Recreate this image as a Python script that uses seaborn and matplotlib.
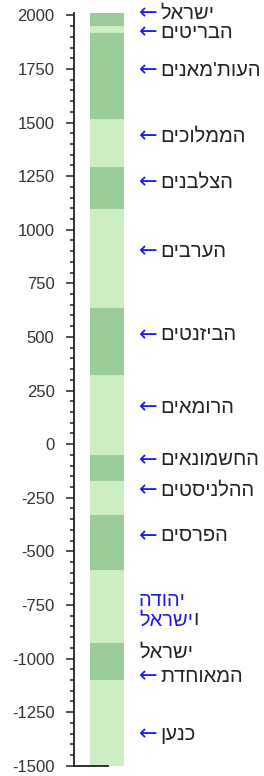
import matplotlib
matplotlib.use('Agg')
import matplotlib.pyplot as plt
import matplotlib.transforms as mtransforms
from matplotlib.ticker import MultipleLocator
import seaborn as sns

# periods, top to bottom (year boundaries)
period_names = ['ישראל', 'הבריטים', "העות'מאנים", 'הממלוכים', 'הצלבנים',
                'הערבים', 'הביזנטים', 'הרומאים', 'החשמונאים', 'ההלניסטים',
                'הפרסים', 'יהודה וישראל', 'ישראל המאוחדת', 'כנען']
period_start = [1948, 1917, 1517, 1291, 1099, 634, 324, -50, -170, -332,
                -586, -930, -1100, -1500]
period_end = [2010, 1948, 1917, 1517, 1291, 1099, 634, 324, -50, -170,
              -332, -586, -930, -1100]
period_dark = [1, 0, 1, 0, 1, 0, 1, 0, 1, 0, 1, 0, 1, 0]

# where each label sits on the time axis
label_years = [2009, 1920, 1745, 1437, 1224, 898, 510, 172, -73, -216,
               -428, -775, -1082, -1355]

DARK = '#99cc99'
LIGHT = '#cdeec2'
BLUE = '#1c1ce8'
TEXT = '#222222'
HEB = ['Liberation Sans', 'DejaVu Sans']

sns.set_style('ticks')
plt.rcParams['font.family'] = HEB
plt.rcParams['axes.unicode_minus'] = False

W, H = 264, 776
fig = plt.figure(figsize=(W / 100, H / 100), dpi=100)
ax = fig.add_axes([74 / W, 10.3 / H, 50 / W, 752.5 / H])

colors = [DARK if d else LIGHT for d in period_dark]
heights = [e - s for s, e in zip(period_start, period_end)]
ax.bar([0] * len(heights), heights, bottom=period_start, width=1.0,
       color=colors, edgecolor='none', zorder=1)

ax.set_xlim(-0.5 - 16 / 34, 0.5)
ax.set_ylim(-1500, 2010)
ax.yaxis.set_major_locator(MultipleLocator(250))
ax.yaxis.set_minor_locator(MultipleLocator(50))
ax.tick_params(axis='y', which='major', length=6, width=1.1, pad=8,
               labelsize=12, labelcolor='#333333', color='#222222')
ax.tick_params(axis='y', which='minor', length=3, width=1.1, color='#222222')
ax.tick_params(axis='x', bottom=False, labelbottom=False)
for side in ['top', 'right']:
    ax.spines[side].set_visible(False)
for side in ['left', 'bottom']:
    ax.spines[side].set_linewidth(1.3)
    ax.spines[side].set_color('#222222')
    ax.spines[side].set_zorder(3)
ax.spines['bottom'].set_bounds(-0.5 - 16 / 34, 0.03)
ax.set_facecolor('white')

# labels: matplotlib has no bidi, so Hebrew is passed in visual order
tr = mtransforms.blended_transform_factory(fig.transFigure, ax.transData)
arrow_x = 139 / W
name_x = 160 / W
fs = 14.5


def vis(s):
    return s[::-1]


for name, y in zip(period_names, label_years):
    if name == 'יהודה וישראל':
        # link text: blue, with the joining vav in black
        first, second = name.split(' ')
        ax.text(arrow_x, y + 45, vis(first), transform=tr, ha='left',
                va='center', fontsize=fs, color=BLUE, family=HEB)
        blue = ax.text(arrow_x, y - 45, vis(second[1:]), transform=tr,
                       ha='left', va='center', fontsize=fs, color=BLUE,
                       family=HEB)
        ax.annotate(second[0], xy=(1, 0), xycoords=blue, ha='left',
                    va='bottom', fontsize=fs, color=TEXT, family=HEB)
        continue
    if name == 'ישראל המאוחדת':
        first, second = name.split(' ')
        ax.text(arrow_x, y + 110, vis(first), transform=tr, ha='left',
                va='center', fontsize=fs, color=TEXT, family=HEB)
        name = second
    ax.text(arrow_x, y, '←', transform=tr, ha='left', va='center',
            fontsize=16, color=BLUE, family='DejaVu Sans')
    ax.text(name_x, y, vis(name), transform=tr, ha='left', va='center',
            fontsize=fs, color=TEXT, family=HEB)

fig.savefig('out.png', dpi=100, facecolor='white')
